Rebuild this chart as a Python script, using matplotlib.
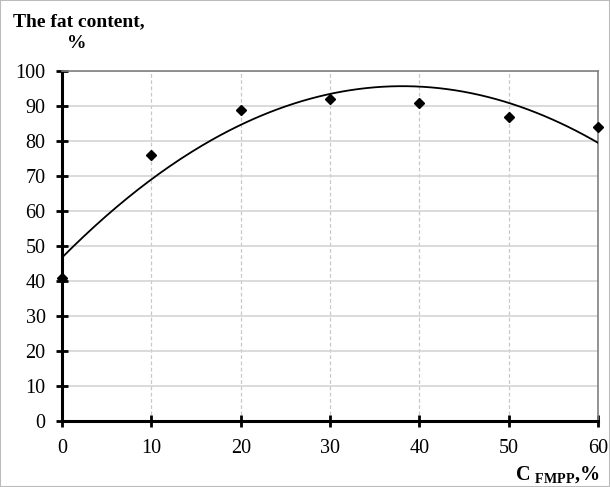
import numpy as np
import matplotlib.pyplot as plt

# measured fat content against FMPP concentration
conc = [0, 10, 20, 30, 40, 50, 60]
fat = [41, 76, 89, 92, 91, 87, 84]

plt.rcParams['font.family'] = ['Liberation Serif', 'DejaVu Serif']
plt.rcParams['mathtext.fontset'] = 'custom'
plt.rcParams['mathtext.rm'] = 'Liberation Serif'
plt.rcParams['mathtext.bf'] = 'Liberation Serif:bold'

fig = plt.figure(figsize=(6.1, 4.87), dpi=100)
ax = fig.add_axes([0.102, 0.1355, 0.878, 0.7185])

# second-order polynomial trend
coef = np.polyfit(conc, fat, 2)
xs = np.linspace(0, 60, 200)
ax.plot(xs, np.polyval(coef, xs), color='black', lw=1.3, zorder=3)
ax.plot(conc, fat, 'D', color='black', ms=5.5, zorder=4, clip_on=False)

ax.set_xlim(0, 60)
ax.set_ylim(0, 100)
ax.set_xticks(range(0, 61, 10))
ax.set_yticks(range(0, 101, 10))

ax.grid(axis='y', color='#d4d4d4', lw=1.2, ls='-')
ax.grid(axis='x', color='#c8c8c8', lw=0.9, ls=(0, (3, 2)))
ax.set_axisbelow(True)

for s in ['left', 'bottom']:
    ax.spines[s].set_linewidth(2.2)
    ax.spines[s].set_color('black')
for s in ['top', 'right']:
    ax.spines[s].set_linewidth(1.2)
    ax.spines[s].set_color('#808080')

ax.tick_params(direction='inout', length=8, width=2, labelsize=14.5)
ax.tick_params(axis='x', pad=9)
ax.tick_params(axis='y', pad=8)

fig.text(0.021, 0.955, 'The fat content,', fontsize=14, fontweight='bold', ha='left', va='center')
fig.text(0.126, 0.911, '%', fontsize=14, fontweight='bold', ha='center', va='center')
fig.text(0.983, 0.026, r'C $_{\mathbf{FMPP}}$,%', fontsize=14.5, fontweight='bold', ha='right', va='center')

fig.patches.append(plt.Rectangle((0, 0), 1, 1, transform=fig.transFigure,
                                 fill=False, ec='#bbbbbb', lw=1.5))

fig.savefig('out.png', dpi=100)
